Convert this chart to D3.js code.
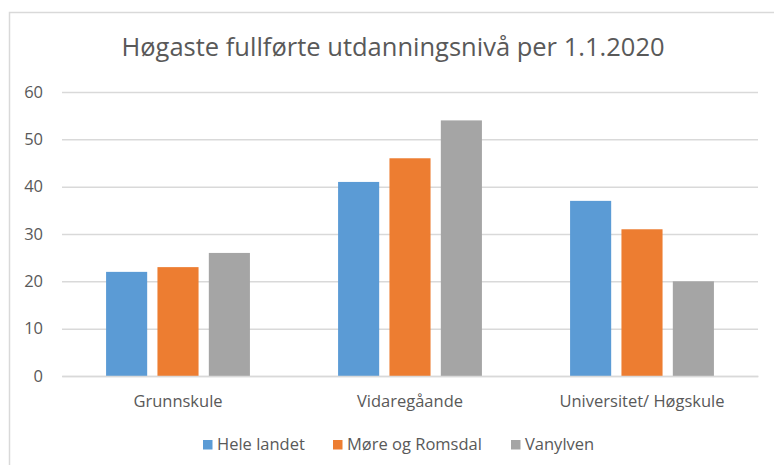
<!DOCTYPE html>
<html>
<head>
<meta charset="utf-8">
<script src="https://cdn.jsdelivr.net/npm/d3@7"></script>
<style>
  body { margin: 0; background: #fff; }
  svg { display: block; font-family: "Open Sans", sans-serif; }
</style>
</head>
<body>
<svg id="chart" width="774" height="465"></svg>
<script>
const title = "Høgaste fullførte utdanningsnivå per 1.1.2020";
const categories = ["Grunnskule", "Vidaregåande", "Universitet/ Høgskule"];
const seriesNames = ["Hele landet", "Møre og Romsdal", "Vanylven"];
const heleLandet = [22, 41, 37];
const moreOgRomsdal = [23, 46, 31];
const vanylven = [26, 54, 20];
const yTicks = [0, 10, 20, 30, 40, 50, 60];
const colors = ["#5b9bd5", "#ed7d31", "#a5a5a5"];

const seriesValues = [heleLandet, moreOgRomsdal, vanylven];

const svg = d3.select("#chart");
const margin = { top: 92, right: 16, bottom: 89, left: 62 };
const width = 774, height = 465;
const textColor = "#595959";

// chart frame
svg.append("path")
  .attr("d", `M9.5,${height} V12.5 H${width}`)
  .attr("fill", "none")
  .attr("stroke", "#d9d9d9")
  .attr("stroke-width", 1.5);

svg.append("text")
  .attr("x", 393)
  .attr("y", 56)
  .attr("text-anchor", "middle")
  .attr("fill", textColor)
  .style("font-size", "25.5px")
  .text(title);

const x0 = d3.scaleBand()
  .domain(categories)
  .range([margin.left, width - margin.right])
  .padding(0);

const groupW = x0.bandwidth() * 0.62;
const x1 = d3.scaleBand()
  .domain(seriesNames)
  .range([(x0.bandwidth() - groupW) / 2, (x0.bandwidth() + groupW) / 2])
  .paddingInner(0.2);

const y = d3.scaleLinear()
  .domain([0, 60])
  .range([376, margin.top]);

// gridlines + y labels
const yAxis = g => g
  .attr("transform", `translate(${margin.left},0)`)
  .call(d3.axisLeft(y).tickValues(yTicks).tickSize(-(width - margin.right - margin.left)).tickPadding(19))
  .call(g => g.select(".domain").remove())
  .call(g => g.selectAll(".tick line").attr("stroke", "#d9d9d9").attr("stroke-width", 1.5))
  .call(g => g.selectAll(".tick text")
    .attr("fill", textColor)
    .style("font-size", "16.5px")
    .style("font-family", "'Open Sans', sans-serif"));

svg.append("g").call(yAxis);

// bars
const groups = svg.append("g")
  .selectAll("g")
  .data(categories)
  .join("g")
  .attr("transform", d => `translate(${x0(d)},0)`);

groups.selectAll("rect")
  .data((d, i) => seriesNames.map((s, j) => ({ s, v: seriesValues[j][i], j })))
  .join("rect")
  .attr("x", d => x1(d.s))
  .attr("width", x1.bandwidth())
  .attr("y", d => y(d.v))
  .attr("height", d => y(0) - y(d.v))
  .attr("fill", d => colors[d.j]);

// x axis
const xAxis = g => g
  .attr("transform", `translate(0,${y(0)})`)
  .call(d3.axisBottom(x0).tickSize(0).tickPadding(19))
  .call(g => g.select(".domain").attr("stroke", "#d9d9d9").attr("stroke-width", 1.5))
  .call(g => g.selectAll(".tick text")
    .attr("fill", textColor)
    .style("font-size", "16.5px")
    .style("font-family", "'Open Sans', sans-serif"));

svg.append("g").call(xAxis);

// legend
const legendX = [203, 333, 511];
const legend = svg.append("g")
  .selectAll("g")
  .data(seriesNames)
  .join("g")
  .attr("transform", (d, i) => `translate(${legendX[i]},440)`);

legend.append("rect")
  .attr("width", 9.5)
  .attr("height", 9.5)
  .attr("fill", (d, i) => colors[i]);

legend.append("text")
  .attr("x", 14)
  .attr("y", 9.5)
  .attr("fill", textColor)
  .style("font-size", "16.5px")
  .text(d => d);
</script>
</body>
</html>
